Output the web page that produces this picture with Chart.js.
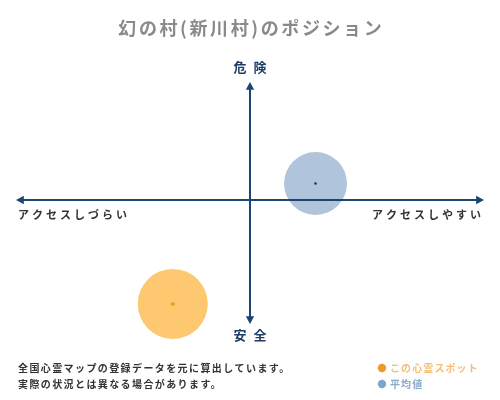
<!DOCTYPE html>
<html>
<head>
<meta charset="utf-8">
<script src="https://cdn.jsdelivr.net/npm/chart.js@4.4.1/dist/chart.umd.min.js"></script>
<style>
  html, body { margin: 0; padding: 0; background: #fff; }
  #wrap { width: 500px; height: 400px; }
</style>
</head>
<body>
<div id="wrap"><canvas id="positionChart" width="500" height="400"></canvas></div>
<script>
// values
const chartTitle = '幻の村(新川村)のポジション';
const seriesNames = ['この心霊スポット', '平均値'];
const xValues = [-3.3, 2.8];
const yValues = [-8.8, 1.4];
const bubbleSizes = [35, 31.5];
const yAxisLabels = ['危険', '安全'];
const xAxisLabels = ['アクセスしづらい', 'アクセスしやすい'];
const notes = ['全国心霊マップの登録データを元に算出しています。', '実際の状況とは異なる場合があります。'];

const FONT = '"Noto Sans CJK JP", "Noto Sans", sans-serif';
const AXIS_COLOR = '#1b4674';

function arrowHead(ctx, x, y, dir) {
    // dir: 'up' | 'down' | 'left' | 'right'
    const s = 6;
    ctx.beginPath();
    if (dir === 'up') { ctx.moveTo(x, y); ctx.lineTo(x - s * 0.7, y + s * 1.3); ctx.lineTo(x + s * 0.7, y + s * 1.3); }
    if (dir === 'down') { ctx.moveTo(x, y); ctx.lineTo(x - s * 0.7, y - s * 1.3); ctx.lineTo(x + s * 0.7, y - s * 1.3); }
    if (dir === 'left') { ctx.moveTo(x, y); ctx.lineTo(x + s * 1.3, y - s * 0.7); ctx.lineTo(x + s * 1.3, y + s * 0.7); }
    if (dir === 'right') { ctx.moveTo(x, y); ctx.lineTo(x - s * 1.3, y - s * 0.7); ctx.lineTo(x - s * 1.3, y + s * 0.7); }
    ctx.closePath();
    ctx.fill();
}

function spacedText(ctx, text, x, y, spacing, align) {
    ctx.letterSpacing = spacing + 'px';
    const w = ctx.measureText(text).width - spacing;
    let start = x;
    if (align === 'center') start = x - w / 2;
    if (align === 'right') start = x - w;
    ctx.textAlign = 'left';
    ctx.fillText(text, start, y);
    ctx.letterSpacing = '0px';
}

const decorPlugin = {
    id: 'decor',
    afterDatasetsDraw(chart) {
        const ctx = chart.ctx;
        const xs = chart.scales.x;
        const ys = chart.scales.y;
        const cx = xs.getPixelForValue(0);
        const cy = ys.getPixelForValue(0);
        const top = ys.getPixelForValue(ys.max);
        const bottom = ys.getPixelForValue(ys.min);
        const left = xs.getPixelForValue(xs.min);
        const right = xs.getPixelForValue(xs.max);

        ctx.save();
        ctx.strokeStyle = AXIS_COLOR;
        ctx.fillStyle = AXIS_COLOR;
        ctx.lineWidth = 2;
        ctx.beginPath();
        ctx.moveTo(cx, top + 4); ctx.lineTo(cx, bottom - 4);
        ctx.moveTo(left + 4, cy); ctx.lineTo(right - 4, cy);
        ctx.stroke();
        arrowHead(ctx, cx, top, 'up');
        arrowHead(ctx, cx, bottom, 'down');
        arrowHead(ctx, left, cy, 'left');
        arrowHead(ctx, right, cy, 'right');

        // centre marks of each bubble
        chart.getDatasetMeta(0).data.forEach((pt, i) => {
            ctx.fillStyle = i === 0 ? '#f0a020' : '#1b2a3a';
            ctx.beginPath();
            ctx.arc(pt.x, pt.y, i === 0 ? 2 : 1.2, 0, Math.PI * 2);
            ctx.fill();
        });

        ctx.textBaseline = 'middle';
        // title
        ctx.font = 'bold 18px ' + FONT;
        ctx.fillStyle = '#8a8a8a';
        spacedText(ctx, chartTitle, 250, 28, 2.6, 'center');

        // vertical axis labels
        ctx.font = 'bold 13px ' + FONT;
        ctx.fillStyle = '#1d3d63';
        spacedText(ctx, yAxisLabels[0], cx, 67, 7, 'center');
        spacedText(ctx, yAxisLabels[1], cx, 335, 7, 'center');

        // horizontal axis labels
        ctx.font = 'bold 11px ' + FONT;
        ctx.fillStyle = '#333';
        spacedText(ctx, xAxisLabels[0], 18, 215, 3, 'left');
        spacedText(ctx, xAxisLabels[1], 481, 215, 3, 'right');

        // notes
        ctx.font = 'bold 10px ' + FONT;
        ctx.fillStyle = '#333';
        notes.forEach((n, i) => spacedText(ctx, n, 18, 368 + i * 16, 1.4, 'left'));

        // legend
        const legendColors = ['#f0982e', '#7fa6cc'];
        const legendText = ['#f3bd78', '#8aa9c9'];
        seriesNames.forEach((name, i) => {
            const ly = 368 + i * 16;
            ctx.fillStyle = legendColors[i];
            ctx.beginPath();
            ctx.arc(382, ly, 4.2, 0, Math.PI * 2);
            ctx.fill();
            ctx.fillStyle = legendText[i];
            spacedText(ctx, name, 390, ly, 1.1, 'left');
        });
        ctx.restore();
    }
};

const ctx = document.getElementById('positionChart').getContext('2d');
new Chart(ctx, {
    type: 'bubble',
    data: {
        datasets: [{
            label: seriesNames.join(' / '),
            data: xValues.map((x, i) => ({ x: x, y: yValues[i], r: bubbleSizes[i] })),
            backgroundColor: ['rgba(254, 200, 112, 1)', 'rgba(176, 196, 219, 1)'],
            borderWidth: 0,
            hoverRadius: 0,
            clip: false
        }]
    },
    options: {
        responsive: false,
        animation: false,
        layout: { autoPadding: false, padding: { left: 16, right: 16, top: 82, bottom: 76 } },
        scales: {
            x: { display: false, min: -10, max: 10 },
            y: { display: false, min: -10.5, max: 10 }
        },
        plugins: {
            legend: { display: false },
            tooltip: { enabled: false },
            title: { display: false }
        }
    },
    plugins: [decorPlugin]
});
</script>
</body>
</html>
